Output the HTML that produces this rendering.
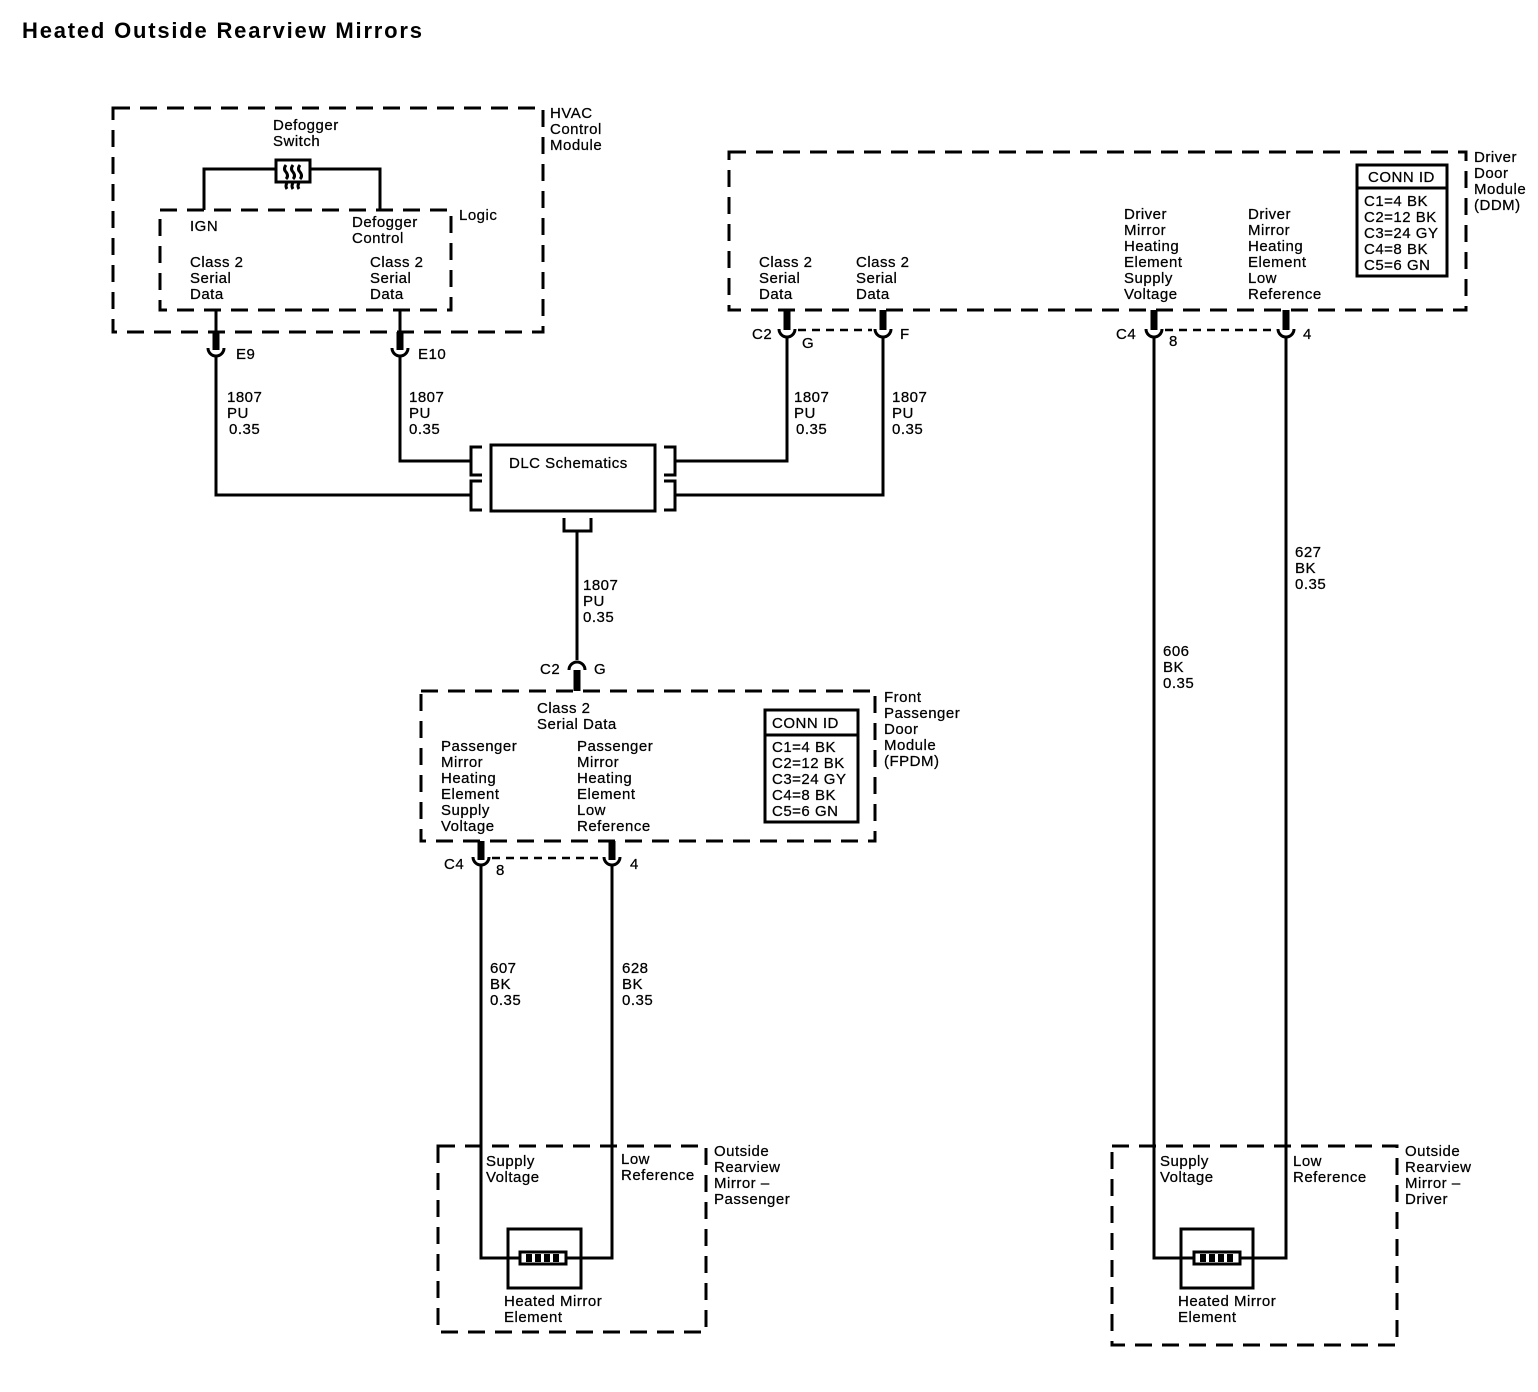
<!DOCTYPE html>
<html><head><style>
body{margin:0;background:#fff}
svg{display:block}
text{font-family:"Liberation Sans",Arial,sans-serif;font-size:15px;fill:#000;letter-spacing:0.5px;stroke:#000;stroke-width:0.25}
.t{font-size:22px;font-weight:bold;letter-spacing:1.8px;stroke-width:0}
.d{fill:none;stroke:#000;stroke-width:3;stroke-dasharray:17 10}
.w{fill:none;stroke:#000;stroke-width:3}
.s{fill:none;stroke:#000;stroke-width:7}
.dd{fill:none;stroke:#000;stroke-width:2.5;stroke-dasharray:8 6}
</style></head><body>
<svg width="1538" height="1392" viewBox="0 0 1538 1392">
<text class="t" x="22" y="38">Heated Outside Rearview Mirrors</text>

<!-- HVAC -->
<rect class="d" x="113" y="108" width="430" height="224"/>
<text x="550" y="118">HVAC</text><text x="550" y="134">Control</text><text x="550" y="150">Module</text>
<text x="273" y="130">Defogger</text><text x="273" y="146">Switch</text>
<rect class="w" x="276" y="160" width="34" height="22"/>
<path class="w" d="M286 165 q-3 4 0 7 q3 4 0 7 M293 165 q-3 4 0 7 q3 4 0 7 M300 165 q-3 4 0 7 q3 4 0 7" stroke-width="2"/>
<path class="w" d="M287 183 q-2 3 0 6 M293 183 q-2 3 0 6 M299 183 q-2 3 0 6" stroke-width="2"/>
<path class="w" d="M204 210 V169 H276 M310 169 H380 V210"/>
<rect class="d" x="160" y="210" width="291" height="100"/>
<text x="459" y="220">Logic</text>
<text x="190" y="231">IGN</text>
<text x="352" y="227">Defogger</text><text x="352" y="243">Control</text>
<text x="190" y="267">Class 2</text><text x="190" y="283">Serial</text><text x="190" y="299">Data</text>
<text x="370" y="267">Class 2</text><text x="370" y="283">Serial</text><text x="370" y="299">Data</text>
<path class="w" d="M216 310 V332 M400 310 V332"/>

<g>
<path class="s" d="M216 332 V350 M400 332 V350"/>
<path class="w" d="M208 348 A8 8 0 0 0 224 348 M392 348 A8 8 0 0 0 408 348"/>
</g>
<text x="236" y="359">E9</text><text x="418" y="359">E10</text>
<path class="w" d="M216 356 V495 H470 M400 356 V461 H470"/>
<text x="227" y="402">1807</text><text x="227" y="418">PU</text><text x="229" y="434">0.35</text>
<text x="409" y="402">1807</text><text x="409" y="418">PU</text><text x="409" y="434">0.35</text>

<!-- DLC -->
<rect class="w" x="491" y="445" width="164" height="66"/>
<text x="509" y="468">DLC Schematics</text>
<path class="w" d="M482 447 H471 V475 H482 M482 481 H471 V510 H482 M664 447 H675 V475 H664 M664 481 H675 V510 H664"/>
<path class="w" d="M675 461 H787 V338 M675 495 H883 V338"/>
<path class="w" d="M564 518 V531 H591 V518 M577 531 V660"/>
<text x="583" y="590">1807</text><text x="583" y="606">PU</text><text x="583" y="622">0.35</text>
<path class="w" d="M569 670 A8 8 0 0 1 585 670"/>
<path class="s" d="M577 670 V691"/>
<text x="540" y="674">C2</text><text x="594" y="674">G</text>

<!-- FPDM -->
<rect class="d" x="421" y="691" width="454" height="150"/>
<text x="884" y="702">Front</text><text x="884" y="718">Passenger</text><text x="884" y="734">Door</text><text x="884" y="750">Module</text><text x="884" y="766">(FPDM)</text>
<text x="537" y="713">Class 2</text><text x="537" y="729">Serial Data</text>
<text x="441" y="751">Passenger</text><text x="441" y="767">Mirror</text><text x="441" y="783">Heating</text><text x="441" y="799">Element</text><text x="441" y="815">Supply</text><text x="441" y="831">Voltage</text>
<text x="577" y="751">Passenger</text><text x="577" y="767">Mirror</text><text x="577" y="783">Heating</text><text x="577" y="799">Element</text><text x="577" y="815">Low</text><text x="577" y="831">Reference</text>
<rect class="w" x="765" y="710" width="93" height="112"/>
<path class="w" d="M765 735 H858"/>
<text x="772" y="728">CONN ID</text>
<text x="772" y="752">C1=4 BK</text><text x="772" y="768">C2=12 BK</text><text x="772" y="784">C3=24 GY</text><text x="772" y="800">C4=8 BK</text><text x="772" y="816">C5=6 GN</text>
<path class="s" d="M481 841 V860 M612 841 V860"/>
<path class="w" d="M473 857 A8 8 0 0 0 489 857 M604 857 A8 8 0 0 0 620 857"/>
<path class="dd" d="M492 858 H602"/>
<text x="444" y="869">C4</text><text x="496" y="875">8</text><text x="630" y="869">4</text>
<path class="w" d="M481 864 V1258 H508 M612 864 V1258 H581"/>
<text x="490" y="973">607</text><text x="490" y="989">BK</text><text x="490" y="1005">0.35</text>
<text x="622" y="973">628</text><text x="622" y="989">BK</text><text x="622" y="1005">0.35</text>

<!-- passenger mirror -->
<rect class="d" x="438" y="1146" width="268" height="186"/>
<text x="714" y="1156">Outside</text><text x="714" y="1172">Rearview</text><text x="714" y="1188">Mirror –</text><text x="714" y="1204">Passenger</text>
<text x="486" y="1166">Supply</text><text x="486" y="1182">Voltage</text>
<text x="621" y="1164">Low</text><text x="621" y="1180">Reference</text>
<rect class="w" x="508" y="1229" width="73" height="59"/>
<rect class="w" x="520" y="1252" width="46" height="12"/>
<path d="M526 1254 h6 v8 h-6z M535 1254 h6 v8 h-6z M544 1254 h6 v8 h-6z M553 1254 h6 v8 h-6z" fill="#000"/>
<path class="w" d="M508 1258 H520 M566 1258 H581"/>
<text x="504" y="1306">Heated Mirror</text><text x="504" y="1322">Element</text>

<!-- DDM -->
<rect class="d" x="729" y="152" width="737" height="158"/>
<text x="1474" y="162">Driver</text><text x="1474" y="178">Door</text><text x="1474" y="194">Module</text><text x="1474" y="210">(DDM)</text>
<text x="759" y="267">Class 2</text><text x="759" y="283">Serial</text><text x="759" y="299">Data</text>
<text x="856" y="267">Class 2</text><text x="856" y="283">Serial</text><text x="856" y="299">Data</text>
<text x="1124" y="219">Driver</text><text x="1124" y="235">Mirror</text><text x="1124" y="251">Heating</text><text x="1124" y="267">Element</text><text x="1124" y="283">Supply</text><text x="1124" y="299">Voltage</text>
<text x="1248" y="219">Driver</text><text x="1248" y="235">Mirror</text><text x="1248" y="251">Heating</text><text x="1248" y="267">Element</text><text x="1248" y="283">Low</text><text x="1248" y="299">Reference</text>
<rect class="w" x="1357" y="165" width="90" height="111"/>
<path class="w" d="M1357 188 H1447"/>
<text x="1368" y="182">CONN ID</text>
<text x="1364" y="206">C1=4 BK</text><text x="1364" y="222">C2=12 BK</text><text x="1364" y="238">C3=24 GY</text><text x="1364" y="254">C4=8 BK</text><text x="1364" y="270">C5=6 GN</text>
<path class="s" d="M787 310 V330 M883 310 V330 M1154 310 V330 M1286 310 V330"/>
<path class="w" d="M779 329 A8 8 0 0 0 795 329 M875 329 A8 8 0 0 0 891 329 M1146 329 A8 8 0 0 0 1162 329 M1278 329 A8 8 0 0 0 1294 329"/>
<path class="dd" d="M798 330 H872 M1165 330 H1276"/>
<text x="752" y="339">C2</text><text x="802" y="348">G</text><text x="900" y="339">F</text>
<text x="1116" y="339">C4</text><text x="1169" y="346">8</text><text x="1303" y="339">4</text>
<text x="794" y="402">1807</text><text x="794" y="418">PU</text><text x="796" y="434">0.35</text>
<text x="892" y="402">1807</text><text x="892" y="418">PU</text><text x="892" y="434">0.35</text>
<path class="w" d="M1154 336 V1258 H1181 M1286 336 V1258 H1253"/>
<text x="1295" y="557">627</text><text x="1295" y="573">BK</text><text x="1295" y="589">0.35</text>
<text x="1163" y="656">606</text><text x="1163" y="672">BK</text><text x="1163" y="688">0.35</text>

<!-- driver mirror -->
<rect class="d" x="1112" y="1146" width="285" height="199"/>
<text x="1405" y="1156">Outside</text><text x="1405" y="1172">Rearview</text><text x="1405" y="1188">Mirror –</text><text x="1405" y="1204">Driver</text>
<text x="1160" y="1166">Supply</text><text x="1160" y="1182">Voltage</text>
<text x="1293" y="1166">Low</text><text x="1293" y="1182">Reference</text>
<rect class="w" x="1181" y="1229" width="72" height="59"/>
<rect class="w" x="1194" y="1252" width="46" height="12"/>
<path d="M1200 1254 h6 v8 h-6z M1209 1254 h6 v8 h-6z M1218 1254 h6 v8 h-6z M1227 1254 h6 v8 h-6z" fill="#000"/>
<path class="w" d="M1181 1258 H1194 M1240 1258 H1253"/>
<text x="1178" y="1306">Heated Mirror</text><text x="1178" y="1322">Element</text>
</svg>
</body></html>
